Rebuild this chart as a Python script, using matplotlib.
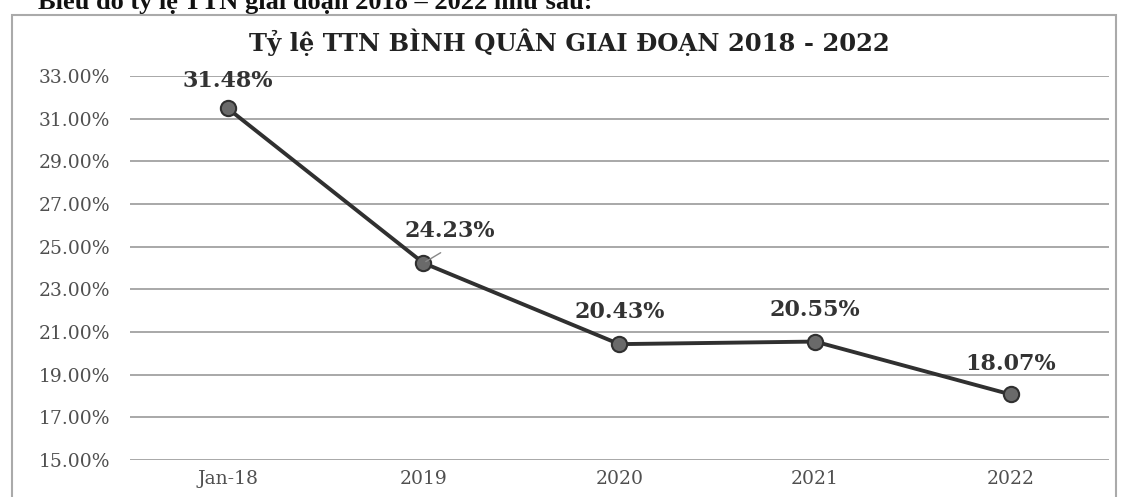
import matplotlib.pyplot as plt
from matplotlib.patches import Rectangle

# Dữ liệu
categories = ["Jan-18", "2019", "2020", "2021", "2022"]
rates = [31.48, 24.23, 20.43, 20.55, 18.07]
yticks = [15, 17, 19, 21, 23, 25, 27, 29, 31, 33]

plt.rcParams['font.family'] = ['DejaVu Serif']

fig = plt.figure(figsize=(11.28, 4.97), dpi=100)
ax = fig.add_axes([0.115, 0.0744, 0.868, 0.773])

x = list(range(len(categories)))
ax.plot(x, rates, color='#303030', linewidth=2.8, marker='o', markersize=11,
        markerfacecolor='#6a6a6a', markeredgecolor='#303030', markeredgewidth=1.5, zorder=3)

# Nhãn dữ liệu
offsets = [(0, 12), (19, 15), (0, 15), (0, 15), (0, 14)]
for xi, v, (dx, dy) in zip(x, rates, offsets):
    ax.annotate(f"{v:.2f}%", (xi, v), xytext=(dx, dy), textcoords='offset points',
                ha='center', va='bottom', fontsize=16, fontweight='bold', color='#333333')
ax.annotate("", (1, rates[1]), xytext=(1.1, rates[1] + 0.55),
            arrowprops=dict(arrowstyle='-', color='#888888', lw=1))

ax.set_xlim(-0.5, len(categories) - 0.5)
ax.set_ylim(15, 33)
ax.set_yticks(yticks)
ax.set_yticklabels([f"{t:.2f}%" for t in yticks], fontsize=13.5, color='#505050')
ax.set_xticks(x)
ax.set_xticklabels(categories, fontsize=13.5, color='#505050')
ax.tick_params(length=0, pad=14)
ax.tick_params(axis='x', pad=7)
ax.grid(axis='y', color='#9a9a9a', linewidth=1.2)
ax.set_axisbelow(True)
for s in ax.spines.values():
    s.set_visible(False)

# Tiêu đề căn giữa khung
fig.text(0.505, 0.915, "Tỷ lệ TTN BÌNH QUÂN GIAI ĐOẠN 2018 - 2022", fontsize=17.5,
         fontweight='bold', color='#222222', ha='center', va='center')

# Khung biểu đồ
fig.patches.append(Rectangle((0.011, -0.01), 0.978, 0.98, transform=fig.transFigure,
                             fill=False, edgecolor='#aaaaaa', linewidth=1.5))
fig.text(0.034, 0.997, "Biểu đồ tỷ lệ TTN giai đoạn 2018 – 2022 như sau:", fontsize=19,
         fontweight='bold', ha='left', va='center', color='#111111',
         family=['Liberation Serif', 'DejaVu Serif'])

fig.savefig("out.png", dpi=100, facecolor='white')
